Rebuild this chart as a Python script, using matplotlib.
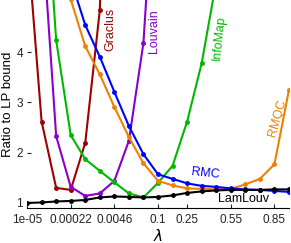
import numpy as np
import matplotlib
matplotlib.use('Agg')
import matplotlib.pyplot as plt

nan = np.nan

# lambda values (log spaced, then linear) and the labelled ones
lam_labels = ['1e-05', '2.8e-05', '7.7e-05', '0.00022', '0.0006', '0.0017', '0.0046',
              '0.013', '0.036', '0.1', '0.175', '0.25', '0.35', '0.45', '0.55',
              '0.65', '0.75', '0.85', '0.95']
tick_lam = ['1e-05', '0.00022', '0.0046', '0.1', '0.25', '0.55', '0.85']

graclus = [6.3, 2.62, 1.30, 1.26, 2.20, 4.84, 15.0] + [nan] * 12
louvain = [nan, 6.6, 2.33, 1.32, 1.14, 1.19, 1.44, 2.24, 4.19, 8.8] + [nan] * 9
infomap = [nan, 8.5, 4.24, 2.35, 1.87, 1.64, 1.41, 1.19, 1.11, 1.40, 1.74, 2.62,
           3.78, 5.4] + [nan] * 5
rmc = [nan, nan, 7.0, 5.45, 4.54, 3.91, 3.21, 2.53, 1.97, 1.57, 1.48, 1.39, 1.34,
       1.32, 1.29, 1.27, 1.26, 1.24, 1.22]
rmqc = [nan, nan, 6.5, 5.05, 4.12, 3.56, 2.91, 2.31, 1.79, 1.44, 1.35, 1.29, 1.28,
        1.27, 1.28, 1.37, 1.48, 1.77, 3.25]
lamlouv = [1.0, 1.01, 1.03, 1.04, 1.06, 1.11, 1.13, 1.12, 1.11, 1.12, 1.15, 1.2,
           1.23, 1.25, 1.26, 1.26, 1.26, 1.27, 1.27]

plt.rcParams['font.family'] = ['Liberation Sans', 'DejaVu Sans']

fig = plt.figure(figsize=(2.91, 2.43), dpi=100)
ax = fig.add_axes([0.093, 0.142, 0.900, 0.858])

x = np.arange(len(lam_labels))
series = [
    (graclus, '#a00000', 'Graclus', 5.75, 4.46, 90),
    (louvain, '#8a00c8', 'Louvain', 8.73, 4.42, 90),
    (infomap, '#00b800', 'InfoMap', 13.2, 4.28, 84),
    (rmqc, '#f08000', 'RMQC', 17.18, 2.69, 74),
    (rmc, '#0000ff', 'RMC', 12.23, 1.58, -6),
    (lamlouv, 'black', 'LamLouv', 14.85, 1.08, 0),
]
for vals, col, name, tx, ty, rot in series:
    ax.plot(x, vals, '-o', color=col, lw=1.5, ms=2.5)
    ax.text(tx, ty, name, color=col, fontsize=9, rotation=rot,
            ha='center', va='center', rotation_mode='anchor')

ax.set_xlim(0, 18)
ax.set_ylim(0.89, 5.04)

ax.set_xticks([lam_labels.index(t) for t in tick_lam])
ax.set_xticklabels(tick_lam)
ax.set_yticks([1, 2, 3, 4])
ax.tick_params(direction='in', length=3, width=0.8, labelsize=8.5, colors='#222222')
ax.tick_params(axis='x', pad=4)
ax.tick_params(axis='y', pad=3)

for s in ['top', 'right', 'left']:
    ax.spines[s].set_visible(False)
ax.spines['bottom'].set_linewidth(0.8)

ax.set_ylabel('Ratio to LP bound', fontsize=9.5)
ax.yaxis.set_label_coords(-0.05, 0.5)
ax.set_xlabel('$\\lambda$', fontsize=11)
ax.xaxis.set_label_coords(0.5, -0.095)

fig.savefig('out.png', dpi=100)
